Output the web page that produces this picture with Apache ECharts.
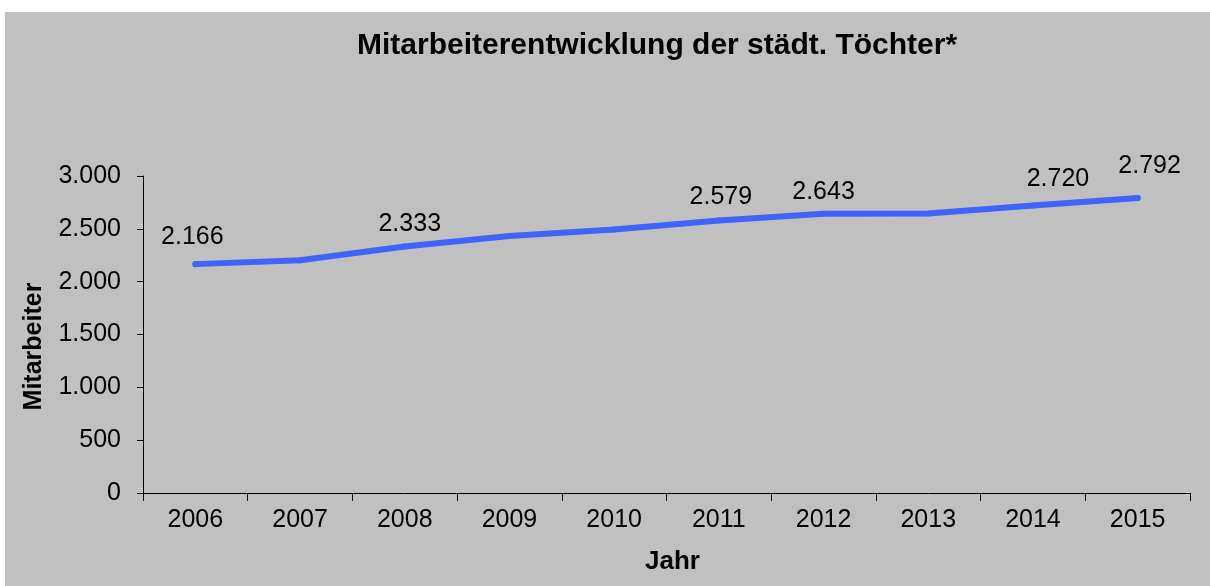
<!DOCTYPE html>
<html>
<head>
<meta charset="utf-8">
<script src="https://cdn.jsdelivr.net/npm/echarts@6/dist/echarts.min.js"></script>
<style>
  html, body { margin: 0; padding: 0; background: #ffffff; }
  #chart { position: absolute; left: 5px; top: 12px; width: 1205px; height: 574px; }
</style>
</head>
<body>
<div id="chart"></div>
<script>
  // Daten
  const years = ["2006", "2007", "2008", "2009", "2010", "2011", "2012", "2013", "2014", "2015"];
  const employees = [2166, 2203, 2333, 2432, 2494, 2579, 2643, 2645, 2720, 2792];
  const labelledYears = ["2006", "2008", "2011", "2012", "2014", "2015"];

  const FONT = "'Liberation Sans', Arial, sans-serif";

  // Tausendertrennzeichen wie im Original (3.000)
  function fmt(v) {
    return String(v).replace(/\B(?=(\d{3})+(?!\d))/g, ".");
  }

  // Label-Versatz je Jahr
  const labelOffsets = {
    "2006": [-3, -3], "2008": [5, 2], "2011": [2, 1],
    "2012": [0, 3], "2014": [25, -2], "2015": [12, -7],
  };

  const chart = echarts.init(document.getElementById("chart"));

  chart.setOption({
    backgroundColor: "#c0c0c0",
    animation: false,
    title: {
      text: "Mitarbeiterentwicklung der städt. Töchter*",
      left: 347,
      top: 14,
      textStyle: { color: "#000", fontFamily: FONT, fontSize: 30, fontWeight: "bold" },
    },
    grid: { left: 138, right: 20, top: 164, bottom: 93 },
    xAxis: {
      type: "category",
      data: years,
      boundaryGap: true,
      name: "Jahr",
      nameLocation: "middle",
      nameGap: 56,
      nameTextStyle: { color: "#000", fontFamily: FONT, fontSize: 26, fontWeight: "bold", padding: [0, 0, 0, 12] },
      axisLine: { lineStyle: { color: "#000", width: 1 } },
      axisTick: { show: true, alignWithLabel: false, length: 8, lineStyle: { color: "#000" } },
      axisLabel: { color: "#000", fontFamily: FONT, fontSize: 25, margin: 15 },
    },
    yAxis: {
      type: "value",
      min: 0,
      max: 3000,
      interval: 500,
      name: "Mitarbeiter",
      nameLocation: "middle",
      nameGap: 96,
      nameTextStyle: { color: "#000", fontFamily: FONT, fontSize: 25, fontWeight: "bold", padding: [0, 24, 0, 0] },
      axisLine: { show: true, lineStyle: { color: "#000", width: 1 } },
      axisTick: { show: true, length: 6, lineStyle: { color: "#000" } },
      axisLabel: { color: "#000", fontFamily: FONT, fontSize: 25, margin: 22, formatter: fmt },
      splitLine: { show: false },
    },
    series: [{
      type: "line",
      data: employees.map((v, i) => {
        const y = years[i];
        const show = labelledYears.includes(y);
        return {
          value: v,
          label: show ? { show: true, offset: labelOffsets[y] } : { show: false },
        };
      }),
      symbol: "circle",
      symbolSize: 6,
      itemStyle: { color: "#3d65fb" },
      lineStyle: { color: "#3d65fb", width: 6, cap: "round", join: "round" },
      label: {
        position: "top",
        distance: 9,
        color: "#000",
        fontFamily: FONT,
        fontSize: 25,
        formatter: p => fmt(p.value),
      },
    }],
  });
</script>
</body>
</html>
